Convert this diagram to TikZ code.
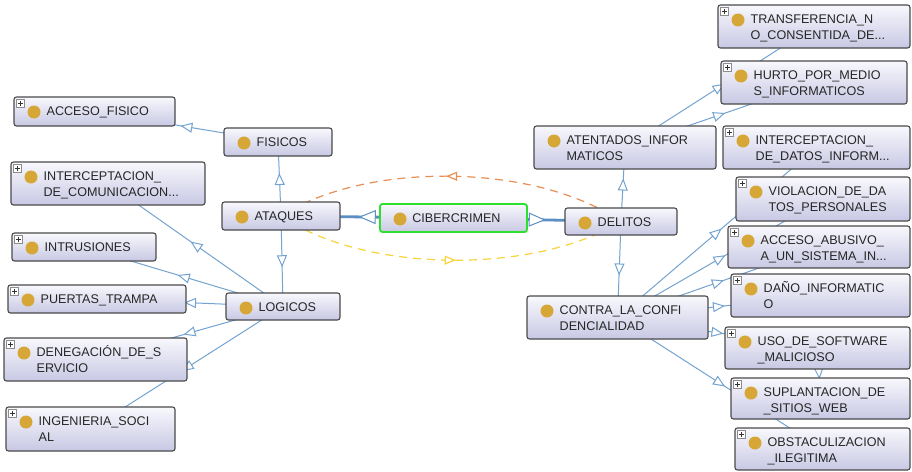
\documentclass[tikz,border=0pt]{standalone}
\usepackage{fontspec}
\setmainfont{Liberation Sans}
\usetikzlibrary{arrows.meta,decorations.markings,backgrounds}

\definecolor{boxtop}{HTML}{F8F8FD}
\definecolor{boxbot}{HTML}{C8C8E4}
\definecolor{boxline}{HTML}{4A4A4A}
\definecolor{dotc}{HTML}{D6A736}
\definecolor{edgec}{HTML}{74A3D0}
\definecolor{thickc}{HTML}{5B8FC4}
\definecolor{orangec}{HTML}{E88F55}
\definecolor{yellowc}{HTML}{F7D53A}
\definecolor{greenc}{HTML}{2EE02E}

\tikzset{
  cls/.style={draw=boxline, line width=1.1pt, rounded corners=2.5pt,
    top color=boxtop, bottom color=boxbot, inner sep=0pt,
    path picture={\fill[dotc] ([xshift=20pt,yshift=-15pt]path picture bounding box.north west) circle (6.5pt);}},
  box/.style n args={3}{minimum width=#1pt, minimum height=#2pt,
    label={[txt]north west:{\begin{tabular}[t]{@{}l@{}}#3\end{tabular}}}},
  txt/.style={anchor=base west, xshift=33pt, yshift=-19.3pt, inner sep=0pt,
    font=\fontsize{12.6}{16}\selectfont, text=black!85},
  plus/.style={label={[plusbox]north west:}},
  plusbox/.style={anchor=north west, xshift=3pt, yshift=-3pt, draw=black!45, fill=white,
    line width=0.6pt, minimum size=8pt, inner sep=0pt,
    path picture={\draw[black!80, line width=0.8pt]
      ([xshift=-2.5pt]path picture bounding box.center) -- ++(5pt,0pt)
      ([yshift=-2.5pt]path picture bounding box.center) -- ++(0pt,5pt);}},
  isa/.style={draw=edgec, line width=1pt, postaction={decorate}, decoration={markings,
    mark=at position 0.5 with {\arrow[xshift=6pt]{Triangle[fill=white, length=12pt, width=10pt]}}}},
  main/.style={draw=thickc, line width=2.8pt, postaction={decorate}, decoration={markings,
    mark=at position 0.5 with {\arrow[xshift=8.5pt]{Triangle[fill=white, line width=1pt, length=17pt, width=14pt]}}}},
  prop/.style={line width=1.2pt, dash pattern=on 8pt off 6pt, postaction={decorate}, decoration={markings,
    mark=at position 0.5 with {\arrow[xshift=5.5pt]{Triangle[fill=white, length=11pt, width=9pt]}}}}
}

\begin{document}
\begin{tikzpicture}[x=1pt, y=-1pt]

\useasboundingbox (0,0) rectangle (912,471);

% ataques
\node[cls, box={108}{28}{FISICOS}] (fisicos) at (278,142) {};
\node[cls, box={118}{28}{ATAQUES}] (ataques) at (281,216) {};
\node[cls, box={114}{27}{LOGICOS}] (logicos) at (283,306.5) {};
\node[cls, plus, box={161}{29}{ACCESO\_FISICO}] (accesofisico) at (94.5,111.5) {};
\node[cls, plus, box={194}{43}{INTERCEPTACION\_\\DE\_COMUNICACION...}] (intercepcom) at (108,183.5) {};
\node[cls, plus, box={144}{28}{INTRUSIONES}] (intrusiones) at (84,247) {};
\node[cls, plus, box={178}{28}{PUERTAS\_TRAMPA}] (puertas) at (97,299) {};
\node[cls, plus, box={183}{43}{DENEGACIÓN\_DE\_S\\ERVICIO}] (denegacion) at (95.5,359.5) {};
\node[cls, plus, box={169}{44}{INGENIERIA\_SOCI\\AL}] (ingenieria) at (90.5,429) {};

\node[cls, draw=greenc, line width=1.8pt, box={147}{28}{CIBERCRIMEN}] (cibercrimen) at (453.5,218) {};

% delitos
\node[cls, box={112}{27}{DELITOS}] (delitos) at (621,221.5) {};
\node[cls, box={182}{43}{ATENTADOS\_INFOR\\MATICOS}] (atentados) at (625,147.5) {};
\node[cls, box={181}{43}{CONTRA\_LA\_CONFI\\DENCIALIDAD}] (contra) at (617.5,317.5) {};
\node[cls, plus, box={192}{43}{TRANSFERENCIA\_N\\O\_CONSENTIDA\_DE...}] (transferencia) at (814,26.5) {};
\node[cls, plus, box={186}{43}{HURTO\_POR\_MEDIO\\S\_INFORMATICOS}] (hurto) at (814,82.5) {};
\node[cls, plus, box={187}{43}{INTERCEPTACION\_\\DE\_DATOS\_INFORM...}] (interceptdatos) at (816.5,147.5) {};
\node[cls, plus, box={174}{44}{VIOLACION\_DE\_DA\\TOS\_PERSONALES}] (violacion) at (823,199) {};
\node[cls, plus, box={182}{42}{ACCESO\_ABUSIVO\_\\A\_UN\_SISTEMA\_IN...}] (accesoabusivo) at (819,247) {};
\node[cls, plus, box={179}{43}{DAÑO\_INFORMATIC\\O}] (dano) at (820.5,295.5) {};
\node[cls, plus, box={185}{42}{USO\_DE\_SOFTWARE\\\_MALICIOSO}] (uso) at (817.5,348) {};
\node[cls, plus, box={179}{41}{SUPLANTACION\_DE\\\_SITIOS\_WEB}] (suplantacion) at (820.5,398.5) {};
\node[cls, plus, box={175}{42}{OBSTACULIZACION\\\_ILEGITIMA}] (obstaculizacion) at (822.5,449) {};

\begin{scope}[on background layer]
\fill[white] (0,0) rectangle (912,471);
\draw[isa] (fisicos.center) -- (accesofisico.center);
\draw[isa] (ataques.center) -- (fisicos.center);
\draw[isa] (ataques.center) -- (logicos.center);
\foreach \n in {intercepcom,intrusiones,puertas,denegacion,ingenieria}
  \draw[isa] (logicos.center) -- (\n.center);
\draw[isa] (delitos.center) -- (atentados.center);
\draw[isa] (delitos.center) -- (contra.center);
\foreach \n in {transferencia,hurto}
  \draw[isa] (atentados.center) -- (\n.center);
\foreach \n in {interceptdatos,violacion,accesoabusivo,dano,uso,obstaculizacion}
  \draw[isa] (contra.center) -- (\n.center);
\draw[isa] (uso.center) -- (suplantacion.center);
\draw[main] (cibercrimen.center) -- (ataques.center);
\draw[main] (cibercrimen.center) -- (delitos.center);
\draw[prop, draw=orangec] (delitos.center) .. controls (536,163) and (366,161) .. (ataques.center);
\draw[prop, draw=yellowc] (ataques.center) .. controls (366,274) and (536,274) .. (delitos.center);
\end{scope}

\end{tikzpicture}
\end{document}
